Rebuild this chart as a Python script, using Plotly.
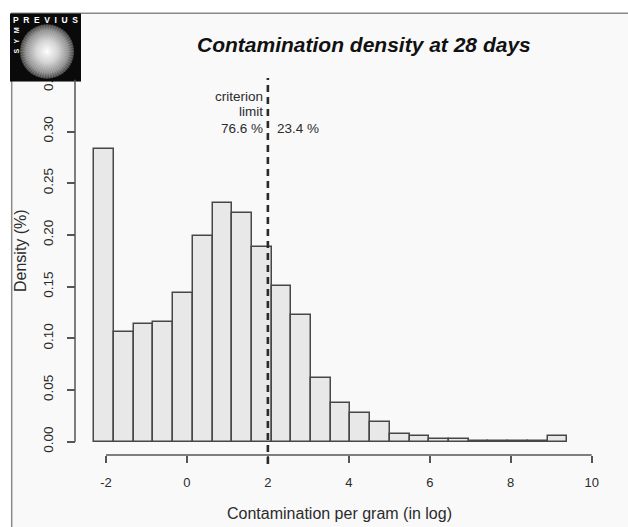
import base64
import math
import plotly.graph_objects as go

# ---------------- data ----------------
bin_edges = [-2.29, -1.803, -1.316, -0.829, -0.342, 0.145, 0.632, 1.119, 1.606,
             2.093, 2.58, 3.067, 3.554, 4.041, 4.528, 5.015, 5.502, 5.989,
             6.476, 6.963, 7.45, 7.937, 8.424, 8.911, 9.398]
density = [0.283, 0.106, 0.114, 0.116, 0.144, 0.199, 0.2305, 0.2215, 0.1886,
           0.1506, 0.123, 0.0613, 0.037, 0.0274, 0.019, 0.0071, 0.0058, 0.0026,
           0.0026, 0.0008, 0.0008, 0.0008, 0.0008, 0.0058]
x_ticks = [-2, 0, 2, 4, 6, 8, 10]
y_ticks = [0, 0.05, 0.10, 0.15, 0.20, 0.25, 0.30, 0.35]
criterion = 2
pct_below = "76.6 %"
pct_above = "23.4 %"
title = "Contamination density at 28 days"
x_title = "Contamination per gram (in log)"
y_title = "Density (%)"

centers = [(a + b) / 2 for a, b in zip(bin_edges[:-1], bin_edges[1:])]
widths = [b - a for a, b in zip(bin_edges[:-1], bin_edges[1:])]

# ---------------- layout geometry (pixels) ----------------
W, H = 628, 527
L, R, T, B = 60, 18, 60, 57
PW = W - L - R
PH = H - T - B


def px(xp):
    return (xp - L) / PW


def py(yp):
    return (H - B - yp) / PH


FONT = "Liberation Sans, Arial, sans-serif"
TXT = "#2b2b2b"
AX = "#555555"

fig = go.Figure()
fig.add_trace(go.Bar(
    x=centers, y=density, width=widths,
    marker=dict(color="#e8e8e8", line=dict(color="#474747", width=1.5)),
    hoverinfo="skip", showlegend=False,
))

# logo as svg image
rays = "".join(
    f'<line x1="37" y1="38" x2="{37 + 27 * math.cos(k * math.pi / 30):.2f}" '
    f'y2="{38 + 27 * math.sin(k * math.pi / 30):.2f}" '
    f'stroke="#ffffff" stroke-opacity="0.18" stroke-width="0.8"/>'
    for k in range(60)
)
svg = f'''<svg xmlns="http://www.w3.org/2000/svg" width="71" height="68" viewBox="0 0 71 68">
<defs><radialGradient id="g" cx="50%" cy="50%" r="50%">
<stop offset="0%" stop-color="#f6f6f6"/><stop offset="40%" stop-color="#d0d0d0"/>
<stop offset="78%" stop-color="#909090"/><stop offset="100%" stop-color="#404040"/>
</radialGradient></defs>
<rect width="71" height="68" fill="#0a0a0a"/>
<circle cx="37" cy="38" r="27" fill="url(#g)"/>
{rays}
<text x="3" y="9.5" fill="#ffffff" font-family="Liberation Sans, Arial" font-weight="bold"
 font-size="8.5" textLength="65" lengthAdjust="spacing">PREVIUS</text>
<text transform="translate(8.5,40) rotate(-90)" fill="#ffffff" font-family="Liberation Sans, Arial"
 font-weight="bold" font-size="7" textLength="26" lengthAdjust="spacing">SYM</text>
</svg>'''
logo_src = "data:image/svg+xml;base64," + base64.b64encode(svg.encode()).decode()

shapes = [
    # panel frame (top & left lines visible)
    dict(type="rect", xref="paper", yref="paper", layer="below",
         x0=px(11.7), x1=px(700), y0=py(700), y1=py(13.3),
         fillcolor="#f9f9f9", line=dict(color="#8a8a8a", width=1.5)),
    # x axis line
    dict(type="line", xref="x", yref="paper", x0=x_ticks[0], x1=x_ticks[-1],
         y0=py(455), y1=py(455), line=dict(color=AX, width=1.5)),
    # y axis line
    dict(type="line", xref="paper", yref="y", x0=px(75), x1=px(75),
         y0=y_ticks[0], y1=y_ticks[-1], line=dict(color=AX, width=1.5)),
    # criterion dashed line
    dict(type="line", xref="x", yref="paper", x0=criterion, x1=criterion,
         y0=py(464), y1=py(78), line=dict(color="#2a2a2a", width=2.6, dash="7px,5px")),
]

ANN = 13.5
annotations = [
    dict(text="<i><b>" + title + "</b></i>", xref="paper", yref="paper",
         x=px(364), y=py(45), showarrow=False, font=dict(size=21, color="#111", family=FONT),
         xanchor="center", yanchor="middle"),
    dict(text=x_title, xref="paper", yref="paper", x=px(339), y=py(513), showarrow=False,
         font=dict(size=16, color=TXT, family=FONT), xanchor="center", yanchor="middle"),
    dict(text=y_title, xref="paper", yref="paper", x=px(20), y=py(251), showarrow=False,
         textangle=-90, font=dict(size=16, color=TXT, family=FONT),
         xanchor="center", yanchor="middle"),
    dict(text="criterion", xref="paper", yref="paper", x=px(264.5), y=py(96.7), showarrow=False,
         font=dict(size=ANN, color=TXT, family=FONT), xanchor="right", yanchor="middle"),
    dict(text="limit", xref="paper", yref="paper", x=px(264.5), y=py(111.7), showarrow=False,
         font=dict(size=ANN, color=TXT, family=FONT), xanchor="right", yanchor="middle"),
    dict(text=pct_below, xref="paper", yref="paper", x=px(264.5), y=py(128.3), showarrow=False,
         font=dict(size=ANN, color=TXT, family=FONT), xanchor="right", yanchor="middle"),
    dict(text=pct_above, xref="paper", yref="paper", x=px(275), y=py(128.3), showarrow=False,
         font=dict(size=ANN, color=TXT, family=FONT), xanchor="left", yanchor="middle"),
]

x_lo = -2 + (L - 106) / 40.47
x_hi = -2 + (L + PW - 106) / 40.47
y_lo = (441.7 - (H - B)) / 1034
y_hi = (441.7 - T) / 1034

fig.update_layout(
    width=W, height=H, margin=dict(l=L, r=R, t=T, b=B),
    paper_bgcolor="#ffffff", plot_bgcolor="rgba(0,0,0,0)",
    bargap=0, showlegend=False,
    font=dict(family=FONT, color=TXT),
    xaxis=dict(range=[x_lo, x_hi], anchor="free", position=py(455),
               showgrid=False, zeroline=False, showline=False,
               tickmode="array", tickvals=x_ticks, ticktext=[str(v) for v in x_ticks],
               ticks="outside", ticklen=7, tickwidth=1.5, tickcolor=AX,
               tickfont=dict(size=13, color=TXT, family=FONT), ticklabelstandoff=8),
    yaxis=dict(range=[y_lo, y_hi], anchor="free", position=px(75),
               showgrid=False, zeroline=False, showline=False,
               tickmode="array", tickvals=y_ticks, ticktext=[f"{v:.2f}" for v in y_ticks],
               ticks="outside", ticklen=8, tickwidth=1.5, tickcolor=AX, tickangle=-90,
               tickfont=dict(size=13.5, color=TXT, family=FONT), ticklabelstandoff=9),
    shapes=shapes, annotations=annotations,
    images=[dict(source=logo_src, xref="paper", yref="paper", x=px(10), y=py(13.3),
                 sizex=71 / PW, sizey=68.4 / PH, sizing="stretch", xanchor="left",
                 yanchor="top", layer="above")],
)

fig.write_html("out.html", config=dict(displayModeBar=False))
